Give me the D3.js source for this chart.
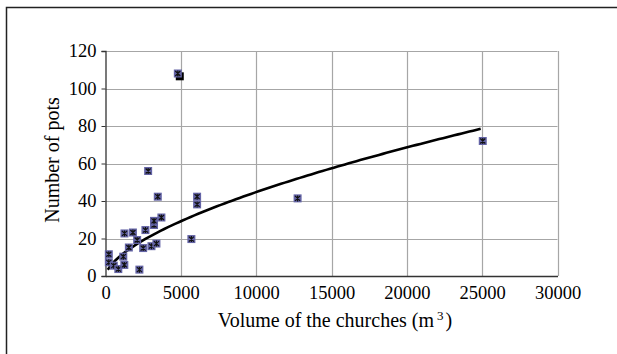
<!DOCTYPE html>
<html>
<head>
<meta charset="utf-8">
<script src="https://cdn.jsdelivr.net/npm/d3@7"></script>
<style>
  body { margin: 0; background: #fff; }
  svg { display: block; }
</style>
</head>
<body>
<div id="chart"></div>
<script>
var w = 617;
var h = 354;
var font = "'Liberation Serif', 'Times New Roman', Times, serif";

// church volume (m3) and number of pots
var volume = [220, 220, 550, 850, 1250, 1180, 1550, 1260, 1820, 2100, 2250, 2500, 3050, 3380,
              2650, 3220, 3220, 3710, 2830, 3470, 5700, 6080, 6080, 12750, 4800, 25040];
var pots = [11.6, 7.3, 5.5, 3.7, 5.9, 10.3, 15.2, 22.7, 23.2, 19.2, 3.4, 14.9, 15.9, 17.3,
            24.5, 27.2, 29.4, 31.2, 56, 42.3, 19.7, 42.3, 38.2, 41.4, 108, 72];

// the separate black marker behind the top point
var outlierVolume = [4930];
var outlierPots = [106.5];

// power trendline y = a * x^b
var trendA = 0.1537;
var trendB = 0.616;
var trendRange = [150, 25000];

var xTicks = [0, 5000, 10000, 15000, 20000, 25000, 30000];
var yTicks = [0, 20, 40, 60, 80, 100, 120];

var margin = {left: 105.5, right: 59.5, top: 51, bottom: 78};

var svg = d3.select("#chart")
    .append("svg")
    .attr("width", w)
    .attr("height", h);

// outer frame (runs off the right and bottom edge)
svg.append("rect")
    .attr("x", 6.5)
    .attr("y", 7.5)
    .attr("width", 640)
    .attr("height", 400)
    .attr("fill", "none")
    .attr("stroke", "#222")
    .attr("stroke-width", 1.5);

var x = d3.scaleLinear()
    .domain([0, 30000])
    .range([margin.left, w - margin.right]);

var y = d3.scaleLinear()
    .domain([0, 120])
    .range([h - margin.bottom, margin.top]);

// grid
svg.append("g")
    .selectAll("line")
    .data(xTicks.slice(1))
    .enter()
    .append("line")
    .attr("x1", function (d) { return Math.round(x(d)) + 0.5; })
    .attr("x2", function (d) { return Math.round(x(d)) + 0.5; })
    .attr("y1", y(0))
    .attr("y2", y(120))
    .attr("stroke", "#a6a6a6")
    .attr("stroke-width", 1.2);

svg.append("g")
    .selectAll("line")
    .data(yTicks.slice(1))
    .enter()
    .append("line")
    .attr("x1", x(0))
    .attr("x2", x(30000))
    .attr("y1", function (d) { return Math.round(y(d)) + 0.5; })
    .attr("y2", function (d) { return Math.round(y(d)) + 0.5; })
    .attr("stroke", "#a6a6a6")
    .attr("stroke-width", 1.2);

// axes
var xAxis = d3.axisBottom(x).tickValues(xTicks).tickSize(0).tickPadding(10).tickFormat(d3.format("d"));
var yAxis = d3.axisLeft(y).tickValues(yTicks).tickSize(4).tickPadding(5);

var gx = svg.append("g")
    .attr("transform", "translate(0," + y(0) + ")")
    .call(xAxis);
gx.select(".domain").attr("stroke", "#333").attr("stroke-width", 1.3);
gx.selectAll("text")
    .style("font-family", font)
    .style("font-size", "18.5px")
    .attr("fill", "#000");

var gy = svg.append("g")
    .attr("transform", "translate(" + x(0) + ",0)")
    .call(yAxis);
gy.select(".domain").attr("stroke", "#333").attr("stroke-width", 1.3);
gy.selectAll(".tick line").attr("stroke", "#333");
gy.selectAll("text")
    .style("font-family", font)
    .style("font-size", "18.5px")
    .attr("fill", "#000");

var trend = d3.range(trendRange[0], trendRange[1] + 1, 250).map(function (v) {
    return [v, trendA * Math.pow(v, trendB)];
});

svg.append("path")
    .datum(trend)
    .attr("fill", "none")
    .attr("stroke", "#000")
    .attr("stroke-width", 2.6)
    .attr("d", d3.line()
        .x(function (d) { return x(d[0]); })
        .y(function (d) { return y(d[1]); }));

// black square marker
svg.selectAll("rect.outlier")
    .data(outlierVolume)
    .enter()
    .append("rect")
    .attr("class", "outlier")
    .attr("x", function (d) { return x(d) - 4; })
    .attr("y", function (d, i) { return y(outlierPots[i]) - 4; })
    .attr("width", 8)
    .attr("height", 8)
    .attr("fill", "#000");

// blue markers with star
var pts = svg.selectAll("g.pt")
    .data(volume)
    .enter()
    .append("g")
    .attr("class", "pt")
    .attr("transform", function (d, i) {
        return "translate(" + x(d) + "," + y(pots[i]) + ")";
    });

pts.append("rect")
    .attr("x", -4)
    .attr("y", -4)
    .attr("width", 8)
    .attr("height", 8)
    .attr("fill", "#6464a6");

pts.append("path")
    .attr("d", "M-2.5,-2.5L2.5,2.5M2.5,-2.5L-2.5,2.5M0,-3L0,3")
    .attr("stroke", "#111")
    .attr("stroke-width", 1.2);

// axis titles
var xt = svg.append("text")
    .attr("x", 335)
    .attr("y", 327)
    .attr("text-anchor", "middle")
    .style("font-family", font)
    .style("font-size", "20px");
xt.append("tspan").text("Volume of the churches (m");
xt.append("tspan").style("font-size", "13px").attr("dy", -7).attr("dx", 3).text("3");
xt.append("tspan").attr("dy", 7).attr("dx", 2).text(")");

svg.append("text")
    .attr("transform", "translate(58.5,160) rotate(-90)")
    .attr("text-anchor", "middle")
    .style("font-family", font)
    .style("font-size", "20px")
    .text("Number of pots");
</script>
</body>
</html>
